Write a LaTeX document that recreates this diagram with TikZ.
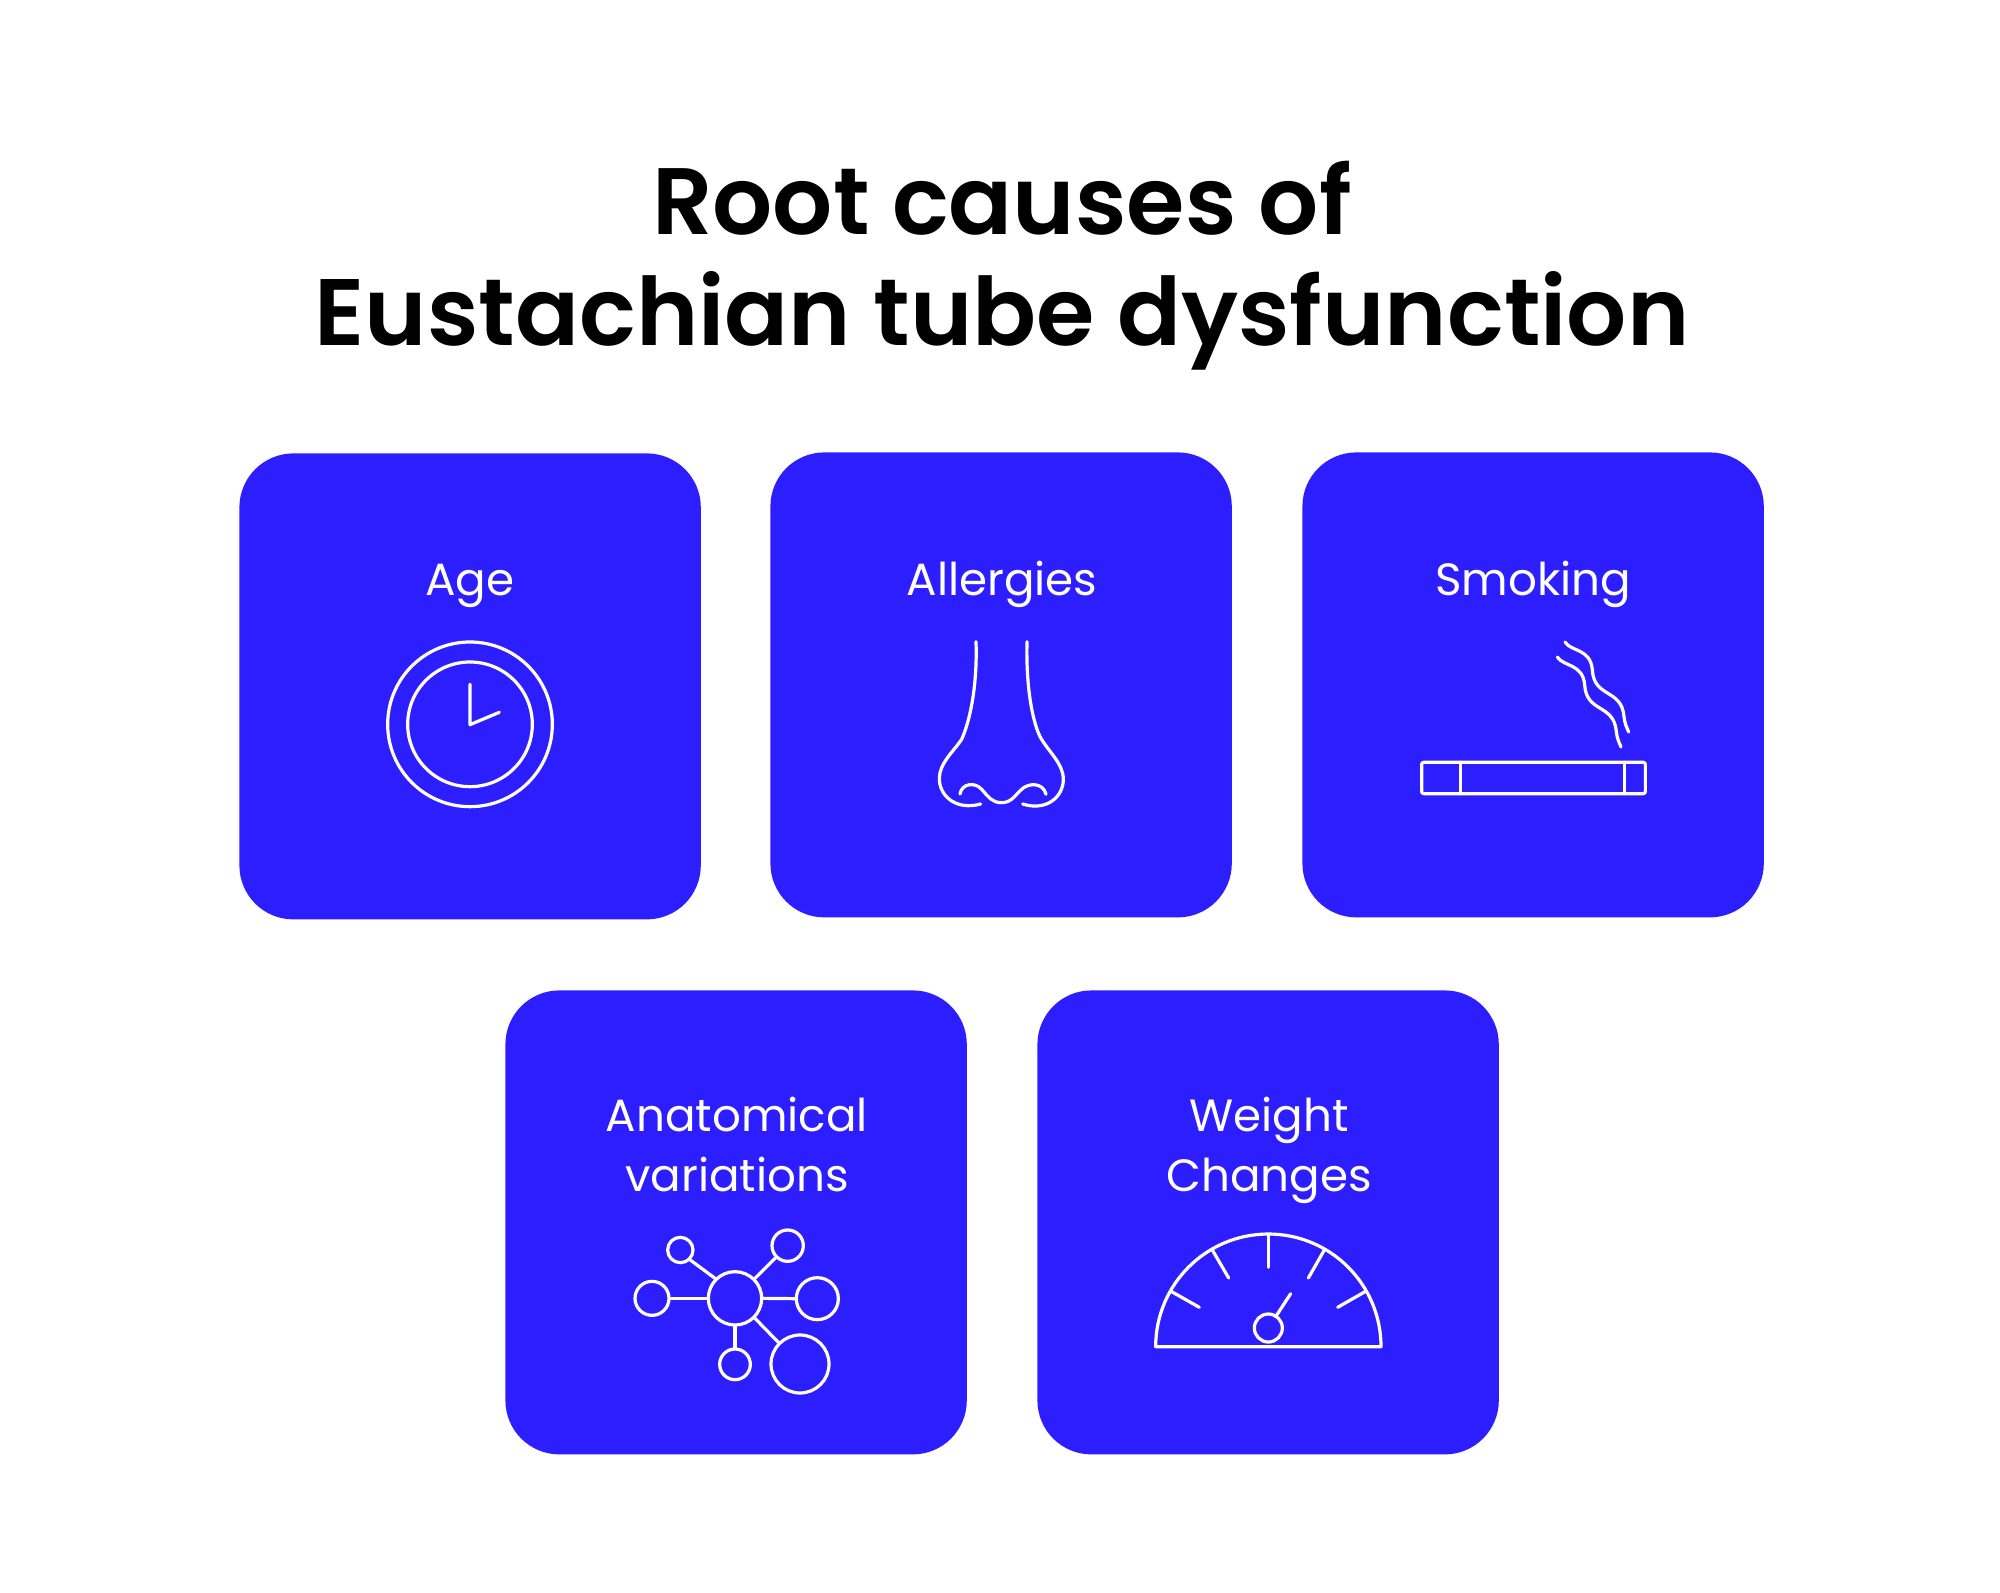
\documentclass[tikz,border=0pt]{standalone}
\usepackage{fontspec}
\setmainfont{Poppins}
\newfontfamily\titlefont{Poppins SemiBold}
\definecolor{cardblue}{HTML}{2D1EFF}
\tikzset{
  card/.style={fill=cardblue,rounded corners=27pt,minimum width=230.7pt,minimum height=232pt,inner sep=0pt,anchor=north west},
  cardlabel/.style={text=white,font=\fontsize{22.6}{30}\selectfont,align=center,inner sep=0pt,anchor=base},
  iconline/.style={draw=white,line width=1.6pt,line cap=round,line join=round},
  dot/.style={circle,draw=white,line width=1.6pt,inner sep=0pt},
  icon/.style={shift={#1},scale=0.33333}
}
\begin{document}
\begin{tikzpicture}[x=0.5pt,y=-0.5pt]
\useasboundingbox (0,0) rectangle (2000,1593);
\fill[white] (0,0) rectangle (2000,1593);
\node[anchor=center,align=center,inner sep=0pt,font=\fontsize{47.2}{55.5}\selectfont\titlefont] (title) at (1002,266) {Root causes of\\Eustachian tube dysfunction};
\node[card,minimum height=233pt] (c1) at (239,453) {};
\node[card,minimum height=232.5pt] (c2) at (770,452) {};
\node[card,minimum height=232.5pt] (c3) at (1302,452) {};
\node[card] (c4) at (505,990) {};
\node[card] (c5) at (1037,990) {};
\node[cardlabel] (l1) at (470,595.5) {Age};
\node[cardlabel] (l2) at (1002,595.5) {Allergies};
\node[cardlabel] (l3) at (1533,595.5) {Smoking};
\node[cardlabel,anchor=base] (l4a) at (737,1131.5) {Anatomical};
\node[cardlabel,anchor=base] (l4b) at (737,1191.5) {variations};
\node[cardlabel,anchor=base] (l5a) at (1269,1131.5) {Weight};
\node[cardlabel,anchor=base] (l5b) at (1269,1191.5) {Changes};
% clock
\begin{scope}[icon={(370,630)}]
\draw[iconline] (300,283) circle (247);
\draw[iconline] (300,283) circle (187);
\draw[iconline] (300,163) -- (300,284) -- (388,247);
\end{scope}
% nose
\begin{scope}[icon={(900,620)}]
\draw[iconline] (228,65) .. controls (232,180) and (215,290) .. (185,358) .. controls (160,395) and (118,430) .. (118,475) .. controls (118,530) and (170,572) .. (242,552);
\draw[iconline] (381,65) .. controls (378,180) and (392,290) .. (420,350) .. controls (445,395) and (490,430) .. (490,478) .. controls (490,530) and (440,575) .. (368,552);
\draw[iconline] (180,522) .. controls (185,490) and (225,485) .. (245,508) .. controls (265,530) and (275,548) .. (305,548) .. controls (335,548) and (345,525) .. (365,508) .. controls (385,488) and (430,487) .. (438,523);
\end{scope}
% cigarette
\begin{scope}[icon={(1400,620)}]
\draw[iconline,rounded corners=1pt] (65,427) rectangle (736,521);
\draw[iconline] (181,427) -- (181,521) (673,427) -- (673,521);
\draw[iconline] (495,66) .. controls (512,95) and (572,85) .. (577,150) .. controls (582,235) and (665,205) .. (672,290) .. controls (674,310) and (680,322) .. (686,336);
\draw[iconline] (472,111) .. controls (489,140) and (549,130) .. (554,195) .. controls (559,280) and (642,250) .. (649,335) .. controls (651,355) and (657,367) .. (663,381);
\end{scope}
% network
\begin{scope}[icon={(620,1215)}]
\node[dot,minimum size=26.67pt] (hub) at (345,250) {};
\node[dot,minimum size=12.67pt] (n1) at (181,105) {};
\node[dot,minimum size=15.67pt] (n2) at (503,92) {};
\node[dot,minimum size=17pt] (n3) at (96,250) {};
\node[dot,minimum size=21pt] (n4) at (592,251) {};
\node[dot,minimum size=15.33pt] (n5) at (345,448) {};
\node[dot,minimum size=29pt] (n6) at (540,447) {};
\draw[iconline] (hub.135) -- (n1.-45);
\draw[iconline] (hub.45) -- (n2.225);
\draw[iconline] (hub.180) -- (n3.0);
\draw[iconline] (hub.0) -- (n4.180);
\draw[iconline] (hub.-90) -- (n5.90);
\draw[iconline] (hub.-45) -- (n6.135);
\end{scope}
% gauge
\begin{scope}[icon={(1140,1215)}]
\draw[iconline] (47,395) arc[start angle=180,end angle=360,radius=338] -- cycle;
\draw[iconline] (385,60) -- (385,157);
\draw[iconline] (95,230) -- (178,277);
\draw[iconline] (217,105) -- (266,189);
\draw[iconline] (553,105) -- (505,189);
\draw[iconline] (675,230) -- (593,277);
\node[dot,minimum size=14pt] (pivot) at (385,339) {};
\coordinate (tip) at (452,236);
\draw[iconline] (pivot.57) -- (tip);
\end{scope}
\end{tikzpicture}
\end{document}
